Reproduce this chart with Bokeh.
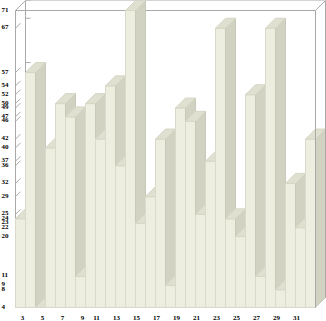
from bokeh.plotting import figure
from bokeh.models import Range1d, ColumnDataSource, LabelSet
from bokeh.embed import file_html
from bokeh.resources import INLINE

# ---- data ----
days = list(range(3, 33))
values = [24, 57, 4, 40, 50, 47, 11, 50, 42, 54, 36, 71, 23, 29, 42,
          9, 49, 46, 25, 37, 67, 24, 20, 52, 11, 67, 8, 32, 22, 42]
x_ticks = list(range(3, 32, 2))
x_tick_labels = [str(t) for t in x_ticks]

# ---- layout / style ----
W, H = 326, 321
Y_MIN, Y_MAX = min(values), max(values)
PX_X = 10.0                       # px per day
PX_Y = 297.0 / (Y_MAX - Y_MIN)    # px per value unit
DEPTH = 10.0                      # 3D depth in px
DX = DEPTH / PX_X
DV = DEPTH / PX_Y

FRONT, SIDE, TOP = "#EDEDE0", "#D2D2C2", "#E0E0D0"
FRONT_L, SIDE_L, TOP_L = "#DADACB", "#C9C9B9", "#D6D6C6"
FRAME = "#A9A9A9"
FONT = "Roboto"

xl = days[0] - 0.5
xr = days[-1] + 0.5
x0 = xl - 15 / PX_X
y0 = Y_MIN - 14 / PX_Y

p = figure(width=W, height=H, x_range=Range1d(x0, x0 + W / PX_X),
           y_range=Range1d(y0, y0 + H / PX_Y),
           x_axis_type=None, y_axis_type=None, title=None,
           output_backend="svg", toolbar_location=None,
           min_border=0, outline_line_color=None,
           background_fill_color="white", border_fill_color="white")
p.grid.visible = False

# ---- frame box (behind bars) ----
fx = [[xl, xl], [xl, xr], [xr, xr],
      [xl + DX, xl + DX], [xl + DX, xr + DX], [xr + DX, xr + DX],
      [xl, xl + DX], [xr, xr + DX], [xr, xr + DX], [xl, xl + DX]]
fy = [[Y_MIN, Y_MAX], [Y_MAX, Y_MAX], [Y_MIN, Y_MAX],
      [Y_MIN + DV, Y_MAX + DV], [Y_MAX + DV, Y_MAX + DV], [Y_MIN + DV, Y_MAX + DV],
      [Y_MAX, Y_MAX + DV], [Y_MAX, Y_MAX + DV], [Y_MIN, Y_MIN + DV], [Y_MIN, Y_MIN + DV]]
p.multi_line(fx, fy, line_color=FRAME, line_width=1)

# tick marks on the left wall and the back wall
uniq = sorted(set(values))
tx, ty = [], []
for u in uniq:
    tx.append([xl, xl + DX * 0.5]); ty.append([u, u + DV * 0.5])
    tx.append([xl + DX, xl + DX * 1.5]); ty.append([u + DV, u + DV])
p.multi_line(tx, ty, line_color=FRAME, line_width=1)

# ---- 3D bars, drawn left to right ----
xs, ys, fills, lines = [], [], [], []
for d, v in zip(days, values):
    a, b = d - 0.5, d + 0.5
    xs.append([a, b, b, a]); ys.append([Y_MIN, Y_MIN, v, v])
    fills.append(FRONT); lines.append(FRONT_L)
    xs.append([b, b + DX, b + DX, b]); ys.append([Y_MIN, Y_MIN + DV, v + DV, v])
    fills.append(SIDE); lines.append(SIDE_L)
    xs.append([a, b, b + DX, a + DX]); ys.append([v, v, v + DV, v + DV])
    fills.append(TOP); lines.append(TOP_L)
p.patches(xs=xs, ys=ys, fill_color=fills, line_color=lines, line_width=1)

# right frame edge in front
p.multi_line([[xr, xr], [xr + DX, xr + DX]],
             [[Y_MIN, Y_MAX], [Y_MIN + DV, Y_MAX + DV]],
             line_color=FRAME, line_width=1)

# ---- labels ----
ysrc = ColumnDataSource(dict(v=uniq, t=[str(u) for u in uniq]))
p.add_layout(LabelSet(x=1, x_units="screen", y="v", text="t", source=ysrc,
                      y_offset=1,
                      text_align="left", text_baseline="middle",
                      text_font=FONT, text_font_size="7px",
                      text_font_style="bold", text_color="black"))

xoff = [2 if len(t) == 1 else -4 for t in x_tick_labels]
xsrc = ColumnDataSource(dict(x=x_ticks, t=x_tick_labels, o=xoff,
                             y=[Y_MIN - 10 / PX_Y] * len(x_ticks)))
p.add_layout(LabelSet(x="x", y="y", text="t", x_offset="o", source=xsrc,
                      text_align="center", text_baseline="middle",
                      text_font=FONT, text_font_size="7px",
                      text_font_style="bold", text_color="black"))

open("out.html", "w").write(file_html(p, INLINE))
